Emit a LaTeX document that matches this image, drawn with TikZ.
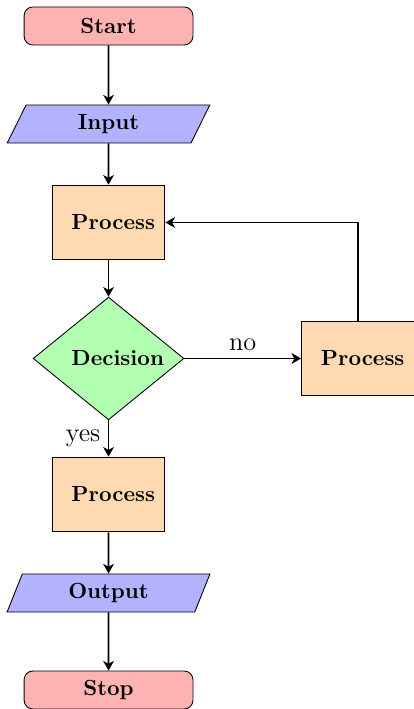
\documentclass[tikz,border=0pt]{standalone}
\usepackage{tikz}
\usetikzlibrary{shapes.geometric,arrows.meta}
\usepackage{xcolor}
\colorlet{termfill}{red!30}
\colorlet{iofill}{blue!30}
\colorlet{procfill}{orange!30}
\colorlet{decfill}{green!30}
\tikzset{
  terminal/.style={rectangle,rounded corners,draw=black,fill=termfill,
    minimum width=2.71cm,minimum height=0.61cm,inner sep=0pt,font=\bfseries},
  inout/.style={trapezium,trapezium left angle=70,trapezium right angle=110,
    trapezium stretches=true,draw=black,fill=iofill,
    minimum width=3.26cm,minimum height=0.61cm,inner sep=0pt,font=\bfseries},
  process/.style={rectangle,draw=black,fill=procfill,
    minimum width=1.81cm,minimum height=1.2cm,text width=1.19cm,align=center,
    inner sep=0pt,font=\bfseries},
  decision/.style={diamond,draw=black,fill=decfill,
    minimum width=2.42cm,minimum height=1.97cm,text width=1.19cm,align=center,
    inner sep=0pt,font=\bfseries},
  flowline/.style={thick,-{Stealth[length=4.4pt,width=4.9pt,inset=1.3pt]}},
  edgelabel/.style={font=\large}
}

\begin{document}
\begin{tikzpicture}
    \useasboundingbox (0,0) rectangle (6.645,-11.38);
    \node[terminal] (start) at (1.742,-0.417) {Start};
    \node[inout] (input) at (1.742,-1.990) {Input};
    \node[process] (proc1) at (1.742,-3.571) {Process};
    \node[decision] (dec) at (1.742,-5.754) {Decision};
    \node[process] (proc2) at (5.746,-5.754) {Process};
    \node[process] (proc3) at (1.742,-7.937) {Process};
    \node[inout] (output) at (1.742,-9.518) {Output};
    \node[terminal] (stop) at (1.742,-11.075) {Stop};
    \draw[flowline] (start) -- (input);
    \draw[flowline] (input) -- (proc1);
    \draw[flowline] (proc1) -- (dec);
    \draw[flowline] (dec) -- node[left,edgelabel] {yes} (proc3);
    \draw[flowline] (dec) -- node[above,edgelabel] {no} (proc2);
    \draw[flowline] (proc2.north) |- (proc1.east);
    \draw[flowline] (proc3) -- (output);
    \draw[flowline] (output) -- (stop);
  \end{tikzpicture}
\end{document}
